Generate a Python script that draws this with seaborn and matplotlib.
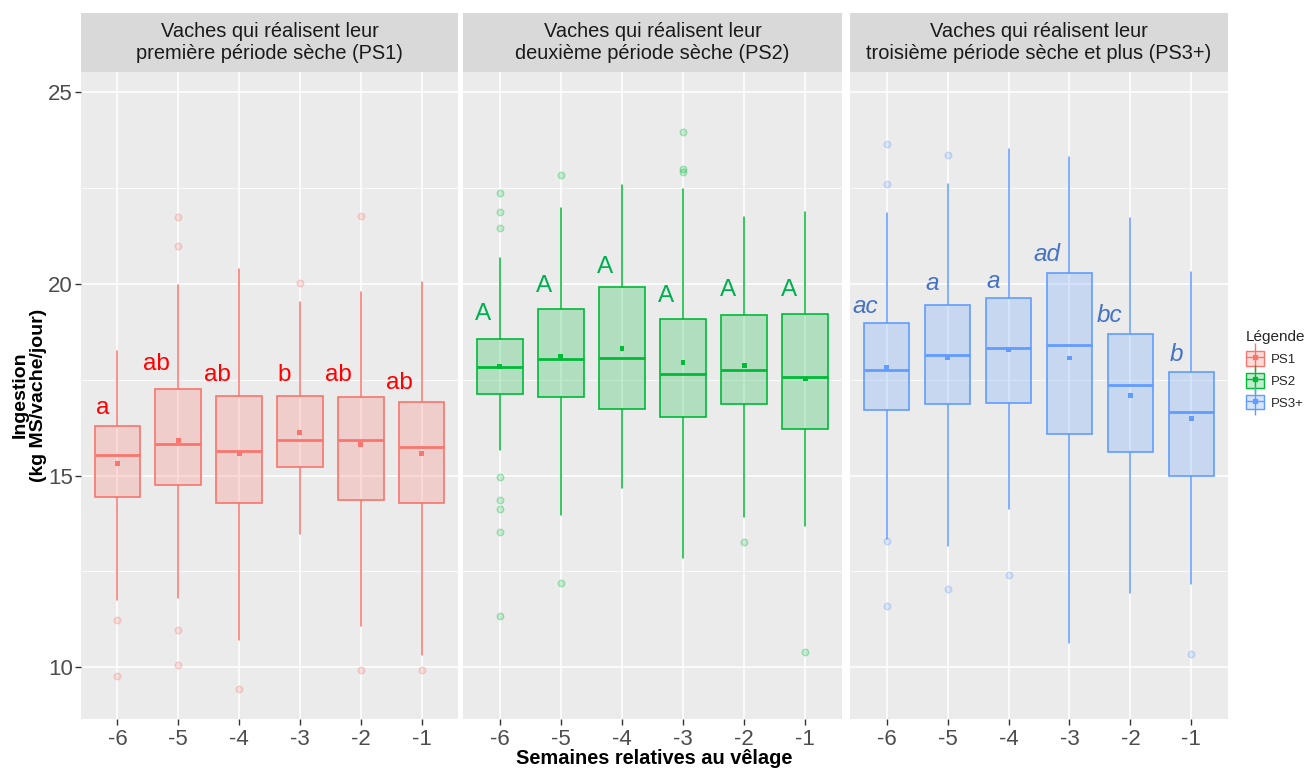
import numpy as np
import pandas as pd
import matplotlib
matplotlib.use("Agg")
import matplotlib.pyplot as plt
import seaborn as sns
from matplotlib.patches import Patch
from matplotlib.lines import Line2D
from matplotlib.legend_handler import HandlerTuple
from matplotlib.colors import to_rgba

# ---------------- data ----------------
weeks = ["-6", "-5", "-4", "-3", "-2", "-1"]
groups = ["PS1", "PS2", "PS3+"]
strip_titles = [
    "Vaches qui réalisent leur\npremière période sèche (PS1)",
    "Vaches qui réalisent leur\ndeuxième période sèche (PS2)",
    "Vaches qui réalisent leur\ntroisième période sèche et plus (PS3+)",
]

ps1_whislo = [11.75, 11.80, 10.71, 13.47, 11.08, 10.33]
ps1_q1 = [14.44, 14.76, 14.28, 15.22, 14.36, 14.28]
ps1_med = [15.55, 15.82, 15.64, 15.93, 15.93, 15.75]
ps1_q3 = [16.29, 17.25, 17.09, 17.09, 17.04, 16.93]
ps1_whishi = [18.26, 19.97, 20.39, 19.54, 19.78, 20.04]
ps1_mean = [15.31, 15.91, 15.57, 16.12, 15.82, 15.57]
ps1_out = [[11.23, 9.76], [21.75, 21.0, 10.96, 10.05], [9.43], [20.02], [21.78, 9.92], [9.92]]
ps1_letters = ["a", "ab", "ab", "b", "ab", "ab"]
ps1_letter_y = [16.60, 17.76, 17.47, 17.47, 17.47, 17.25]

ps2_whislo = [15.67, 13.96, 14.67, 12.84, 13.93, 13.69]
ps2_q1 = [17.12, 17.04, 16.74, 16.53, 16.86, 16.21]
ps2_med = [17.83, 18.05, 18.07, 17.64, 17.75, 17.56]
ps2_q3 = [18.56, 19.34, 19.91, 19.08, 19.19, 19.22]
ps2_whishi = [20.67, 21.97, 22.59, 22.48, 21.74, 21.87]
ps2_mean = [17.84, 18.10, 18.32, 17.96, 17.88, 17.52]
ps2_out = [[22.37, 21.87, 21.45, 14.96, 14.36, 14.12, 13.53, 11.34],
           [22.85, 12.19], [], [23.97, 22.99, 22.93], [13.26], [10.40]]
ps2_letters = ["A", "A", "A", "A", "A", "A"]
ps2_letter_y = [19.06, 19.78, 20.29, 19.54, 19.68, 19.68]

ps3_whislo = [13.35, 13.17, 14.14, 10.62, 11.94, 12.18]
ps3_q1 = [16.72, 16.88, 16.90, 16.08, 15.62, 15.00]
ps3_med = [17.76, 18.15, 18.34, 18.40, 17.37, 16.65]
ps3_q3 = [18.99, 19.45, 19.64, 20.28, 18.70, 17.71]
ps3_whishi = [21.84, 22.62, 23.52, 23.31, 21.73, 20.30]
ps3_mean = [17.81, 18.09, 18.29, 18.07, 17.10, 16.48]
ps3_out = [[23.65, 22.61, 13.29, 11.60], [23.36, 12.03], [12.41], [], [], [10.35]]
ps3_letters = ["ac", "a", "a", "ad", "bc", "b"]
ps3_letter_y = [19.23, 19.84, 19.90, 20.61, 19.00, 18.00]

y_ticks = [10, 15, 20, 25]

panels = [
    dict(whislo=ps1_whislo, q1=ps1_q1, med=ps1_med, q3=ps1_q3, whishi=ps1_whishi,
         mean=ps1_mean, out=ps1_out, letters=ps1_letters, letter_y=ps1_letter_y),
    dict(whislo=ps2_whislo, q1=ps2_q1, med=ps2_med, q3=ps2_q3, whishi=ps2_whishi,
         mean=ps2_mean, out=ps2_out, letters=ps2_letters, letter_y=ps2_letter_y),
    dict(whislo=ps3_whislo, q1=ps3_q1, med=ps3_med, q3=ps3_q3, whishi=ps3_whishi,
         mean=ps3_mean, out=ps3_out, letters=ps3_letters, letter_y=ps3_letter_y),
]

# ---------------- style ----------------
box_colors = ["#F8766D", "#00BA38", "#619CFF"]
letter_colors = ["#FF0000", "#00B050", "#4472C4"]
letter_styles = ["normal", "normal", "italic"]

sns.set_theme(style="darkgrid")
plt.rcParams["font.family"] = ["Liberation Sans", "DejaVu Sans"]
plt.rcParams["axes.facecolor"] = "#EBEBEB"

W, H = 1312, 769
fig = plt.figure(figsize=(W / 100, H / 100), dpi=100)

panel_px = [(81, 458), (463, 842), (850, 1228)]
top_px, bot_px = 72, 719
strip_top = 13

positions = np.arange(len(weeks))

for i, (x0, x1) in enumerate(panel_px):
    ax = fig.add_axes([x0 / W, 1 - bot_px / H, (x1 - x0) / W, (bot_px - top_px) / H])
    ax.set_facecolor("#EBEBEB")
    d = panels[i]
    c = box_colors[i]
    stats = []
    for k in range(len(weeks)):
        stats.append(dict(med=d["med"][k], q1=d["q1"][k], q3=d["q3"][k],
                          whislo=d["whislo"][k], whishi=d["whishi"][k],
                          fliers=[], mean=d["mean"][k]))
    ax.bxp(stats, positions=positions, widths=0.75, patch_artist=True,
           showfliers=False, showcaps=False, showmeans=False,
           boxprops=dict(facecolor=to_rgba(c, 0.25), edgecolor=c, linewidth=1.2),
           medianprops=dict(color=c, linewidth=2.0),
           whiskerprops=dict(color=c, linewidth=1.1), zorder=3)

    # outliers
    ox, oy = [], []
    for k, vals in enumerate(d["out"]):
        for v in vals:
            ox.append(positions[k]); oy.append(v)
    if ox:
        df_out = pd.DataFrame({"pos": ox, "val": oy})
        sns.scatterplot(data=df_out, x="pos", y="val", ax=ax, marker="o", s=22,
                        facecolor=to_rgba(c, 0.18), edgecolor=to_rgba(c, 0.3),
                        linewidth=1.0, legend=False, zorder=4)
    # means
    df_mean = pd.DataFrame({"pos": positions, "mean": d["mean"]})
    sns.scatterplot(data=df_mean, x="pos", y="mean", ax=ax, marker="s", s=12,
                    color=c, edgecolor="none", legend=False, zorder=5)

    # significance letters
    for k, (lab, ly) in enumerate(zip(d["letters"], d["letter_y"])):
        ax.text(positions[k] - 0.14, ly, lab, ha="right", va="baseline",
                fontsize=17.5, color=letter_colors[i], style=letter_styles[i], zorder=6)

    ax.set_xlim(-0.6, len(weeks) - 0.4)
    ax.set_ylim(8.65, 25.53)
    ax.set_xticks(positions)
    ax.set_xticklabels(weeks, fontsize=16, color="#4D4D4D")
    ax.set_yticks(y_ticks)
    ax.set_yticks([12.5, 17.5, 22.5], minor=True)
    ax.grid(True, which="major", color="white", linewidth=1.1)
    ax.grid(True, which="minor", axis="y", color="white", linewidth=0.55)
    ax.set_axisbelow(True)
    ax.tick_params(axis="x", which="major", length=4, width=1, color="#333333",
                   pad=3, bottom=True)
    ax.tick_params(which="minor", length=0)
    if i == 0:
        ax.set_yticklabels([str(t) for t in y_ticks], fontsize=16, color="#4D4D4D")
        ax.tick_params(axis="y", which="major", length=4, width=1, color="#333333",
                       pad=2, left=True)
    else:
        ax.tick_params(axis="y", which="major", length=0, labelleft=False)
    ax.set_xlabel("")
    ax.set_ylabel("")
    for sp in ax.spines.values():
        sp.set_visible(False)

    # strip
    sax = fig.add_axes([x0 / W, 1 - top_px / H, (x1 - x0) / W, (top_px - strip_top) / H])
    sax.set_facecolor("#D9D9D9")
    sax.set_xticks([]); sax.set_yticks([])
    sax.grid(False)
    for sp in sax.spines.values():
        sp.set_visible(False)
    sax.text(0.5, 0.5, strip_titles[i], ha="center", va="center", fontsize=14.4,
             color="#1A1A1A", transform=sax.transAxes, linespacing=1.25)

# axis titles
fig.text((81 + 1228) / 2 / W, 1 - 759 / H, "Semaines relatives au vêlage",
         ha="center", va="center", fontsize=14.4, fontweight="bold", color="black")
fig.text(29 / W, 1 - 395 / H, "Ingestion\n(kg MS/vache/jour)", ha="center", va="center",
         rotation=90, fontsize=14, fontweight="bold", color="black", linespacing=1.1)

# legend (boxplot-like keys: whisker line + box + mean point)
handles = [(Line2D([], [], marker="|", markersize=20, markeredgewidth=1.0,
                   color=c, linestyle="none"),
            Patch(facecolor=to_rgba(c, 0.25), edgecolor=c, linewidth=1.0),
            Line2D([0, 1], [0.5, 0.5], color=c, linewidth=1.0),
            Line2D([], [], marker="s", color=c, linestyle="none", markersize=3))
           for c in box_colors]
leg = fig.legend(handles, groups, handler_map={tuple: HandlerTuple(ndivide=1, pad=0)},
                 title="Légende", loc="upper left",
                 bbox_to_anchor=(1246 / W, 1 - 330 / H), frameon=False,
                 fontsize=9.5, title_fontsize=11, handlelength=1.4, handleheight=1.3,
                 labelspacing=0.55, handletextpad=0.5, borderaxespad=0, borderpad=0)
leg._legend_box.align = "left"

fig.savefig("out.png", dpi=100)
